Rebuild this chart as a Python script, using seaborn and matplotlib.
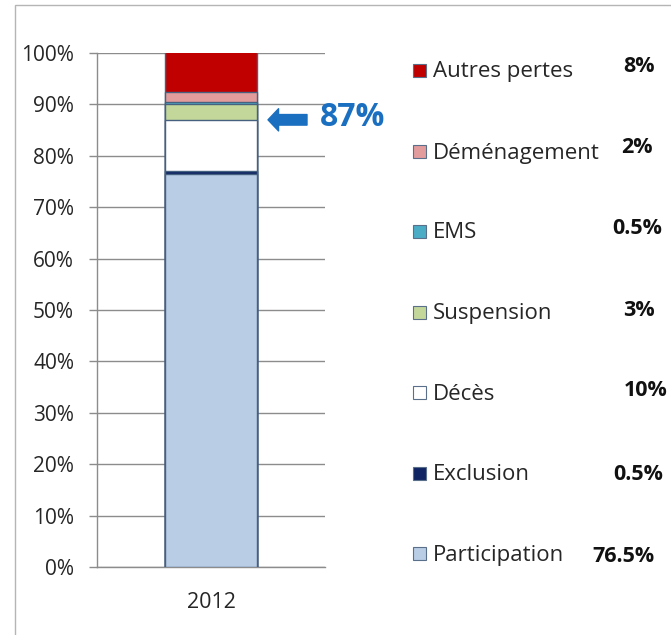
import matplotlib
matplotlib.use("Agg")
import matplotlib.pyplot as plt
import seaborn as sns
import pandas as pd
import numpy as np
from matplotlib.patches import Rectangle
from matplotlib.ticker import PercentFormatter

# Data
year = ["2012"]
categories = ["Participation", "Exclusion", "Décès", "Suspension", "EMS", "Déménagement", "Autres pertes"]
shares = [76.5, 0.5, 10, 3, 0.5, 2, 8]
share_labels = ["76.5%", "0.5%", "10%", "3%", "0.5%", "2%", "8%"]
colors = ["#b9cde5", "#0f2463", "#ffffff", "#c4d79b", "#4bacc6", "#e39c9c", "#c00000"]
highlight_label = "87%"
highlight_level = 0.87

sns.set_theme(style="white")
plt.rcParams["font.family"] = ["Open Sans", "DejaVu Sans"]

W, H = 671, 635
fig = plt.figure(figsize=(W / 100, H / 100), dpi=100)
ax = fig.add_axes([97 / W, 1 - 567 / H, 228 / W, 514 / H])

df = pd.DataFrame({
    "year": year * len(categories),
    "category": categories,
    "share": shares,
})
df["top"] = df["share"].cumsum() / 100

# stacked bar: draw cumulative totals from the top segment down
for i in reversed(range(len(categories))):
    sns.barplot(data=df.iloc[[i]], x="year", y="top", color=colors[i],
                width=0.4, saturation=1, edgecolor="#46607f", linewidth=1,
                ax=ax, zorder=3)

ax.set_xlim(-0.5, 0.5)
ax.set_ylim(0, 1)
ax.set_yticks(np.arange(0, 1.001, 0.1))
ax.yaxis.set_major_formatter(PercentFormatter(1, decimals=0))
ax.set_xlabel("")
ax.set_ylabel("")
ax.yaxis.grid(True, color="#8c8c8c", lw=1)
ax.set_axisbelow(True)
for s in ["top", "right"]:
    ax.spines[s].set_visible(False)
for s in ["left", "bottom"]:
    ax.spines[s].set_color("#8c8c8c")
    ax.spines[s].set_linewidth(1)
ax.tick_params(axis="y", left=True, length=5.5, width=1, color="#8c8c8c",
               pad=11, labelsize=15, labelcolor="#262626")
ax.tick_params(axis="x", bottom=False, length=0, pad=18, labelsize=15.5,
               labelcolor="#262626")

# outer chart frame
fig.add_artist(Rectangle((15 / W, -0.05), 1.0, 1 - 5 / H + 0.05,
                         transform=fig.transFigure, fill=False,
                         edgecolor="#b5b5b5", lw=1, clip_on=False))

# highlight arrow and label
blue = "#1b6fc0"
y_hl = highlight_level * 514 / H + 1 - 567 / H
ax.annotate("", xy=(268 / W, y_hl), xytext=(307 / W, y_hl),
            xycoords="figure fraction", textcoords="figure fraction",
            arrowprops=dict(arrowstyle="simple,head_length=0.38,head_width=0.8,tail_width=0.38",
                            color=blue, mutation_scale=20, shrinkA=0, shrinkB=0))
fig.text(320 / W, 1 - 117 / H, highlight_label, fontsize=23, weight="bold",
         color=blue, va="center", ha="left")

# legend with values
leg_y = [555, 475, 394, 314, 233, 153, 72]
val_x = [592, 613, 624, 623, 612, 621, 623]
val_y = [556, 474, 391, 310, 229, 148, 66]
for i, cat in enumerate(categories):
    fig.add_artist(Rectangle((413 / W, 1 - (leg_y[i] + 5) / H), 13 / W, 13 / H,
                             transform=fig.transFigure, facecolor=colors[i],
                             edgecolor="#5a6f8a", lw=0.8))
    fig.text(433 / W, 1 - leg_y[i] / H, cat, fontsize=16, color="#262626",
             va="center", ha="left")
    fig.text(val_x[i] / W, 1 - val_y[i] / H, share_labels[i], fontsize=15.5,
             weight="bold", color="#111111", va="center", ha="left")

fig.savefig("out.png", dpi=100)
